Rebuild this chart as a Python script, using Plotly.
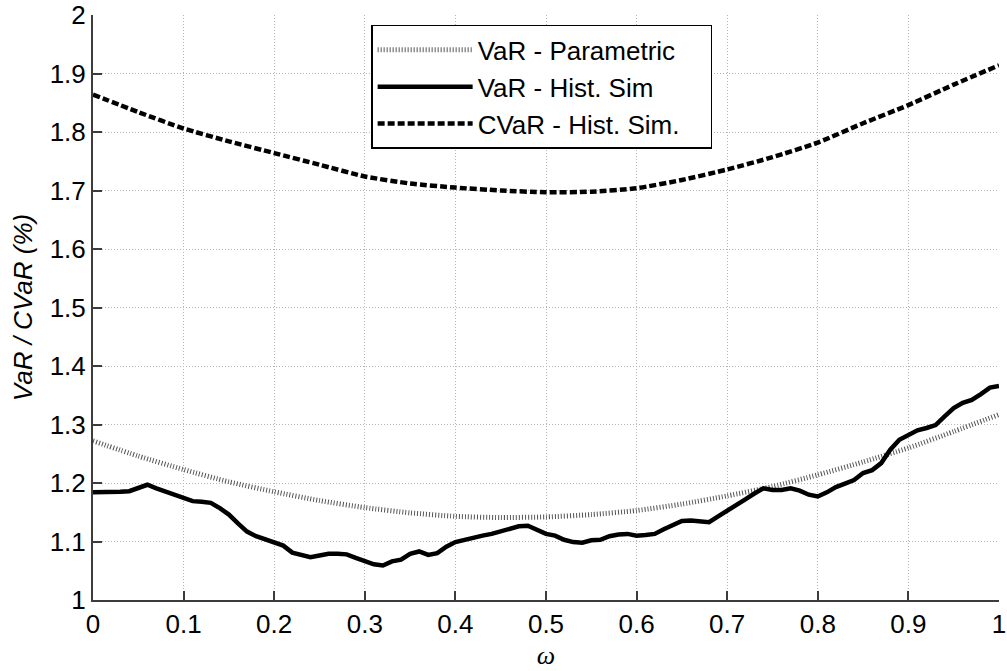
import plotly.graph_objects as go

# ---- data ----
w_fine = [i / 100 for i in range(101)]
var_hist = [
    1.184, 1.184, 1.184, 1.185, 1.186, 1.191, 1.197, 1.191, 1.185, 1.180,
    1.175, 1.169, 1.168, 1.166, 1.157, 1.146, 1.131, 1.117, 1.109, 1.103,
    1.099, 1.093, 1.081, 1.076, 1.073, 1.076, 1.079, 1.079, 1.078, 1.072,
    1.066, 1.061, 1.059, 1.066, 1.069, 1.079, 1.083, 1.077, 1.080, 1.091,
    1.099, 1.103, 1.107, 1.110, 1.113, 1.117, 1.123, 1.126, 1.127, 1.120,
    1.113, 1.110, 1.103, 1.099, 1.098, 1.102, 1.103, 1.109, 1.112, 1.113,
    1.110, 1.111, 1.113, 1.121, 1.129, 1.135, 1.136, 1.134, 1.133, 1.143,
    1.152, 1.163, 1.172, 1.182, 1.191, 1.188, 1.188, 1.191, 1.187, 1.180,
    1.177, 1.184, 1.193, 1.199, 1.205, 1.217, 1.222, 1.234, 1.257, 1.274,
    1.283, 1.290, 1.294, 1.299, 1.314, 1.328, 1.337, 1.342, 1.352, 1.363,
    1.366,
]

w_coarse = [i / 20 for i in range(21)]
var_param = [
    1.272, 1.246, 1.223, 1.202, 1.185, 1.170, 1.158, 1.149, 1.143, 1.141,
    1.142, 1.146, 1.153, 1.164, 1.178, 1.194, 1.214, 1.236, 1.260, 1.288,
    1.317,
]
cvar_hist = [
    1.864, 1.834, 1.806, 1.784, 1.764, 1.744, 1.724, 1.712, 1.705, 1.700,
    1.697, 1.698, 1.704, 1.718, 1.736, 1.757, 1.782, 1.815, 1.846, 1.881,
    1.914,
]

series_names = ["VaR - Parametric", "VaR - Hist. Sim", "CVaR - Hist. Sim."]

x_ticks = [i / 10 for i in range(11)]
x_ticktext = ["0", "0.1", "0.2", "0.3", "0.4", "0.5", "0.6", "0.7", "0.8", "0.9", "1"]
y_ticks = [1 + i / 10 for i in range(11)]
y_ticktext = ["1", "1.1", "1.2", "1.3", "1.4", "1.5", "1.6", "1.7", "1.8", "1.9", "2"]

FONT = "Liberation Sans, Arial, sans-serif"

fig = go.Figure()
fig.add_trace(go.Scatter(
    x=w_coarse, y=var_param, mode="lines", name=series_names[0],
    line=dict(color="#555555", width=5, dash="1px,2px", shape="spline", smoothing=0.6),
    legendgroup="a",
))
fig.add_trace(go.Scatter(
    x=w_fine, y=var_hist, mode="lines", name=series_names[1],
    line=dict(color="black", width=4.5), legendgroup="b",
))
fig.add_trace(go.Scatter(
    x=w_coarse, y=cvar_hist, mode="lines", name=series_names[2] + "\u2003",
    line=dict(color="black", width=4.5, dash="7px,3px", shape="spline", smoothing=0.6),
    legendgroup="c",
))

axis_common = dict(
    showline=True, linecolor="#3c3c3c", linewidth=2, mirror=False,
    ticks="inside", ticklen=9, tickwidth=2, tickcolor="#3c3c3c",
    showgrid=True, gridcolor="#b4b4b4", gridwidth=1, griddash="1px,2px",
    zeroline=False, tickfont=dict(family=FONT, size=26, color="black"),
    ticklabeloverflow="allow", automargin=False,
)

fig.update_xaxes(
    range=[0, 1], tickvals=x_ticks, ticktext=x_ticktext,
    title=dict(text="ω", font=dict(family="Liberation Serif, Times New Roman, serif",
                                   size=26, color="black", style="italic"), standoff=8),
    **axis_common,
)
fig.update_yaxes(
    range=[1, 2], tickvals=y_ticks, ticktext=y_ticktext,
    title=dict(text="VaR / CVaR (%)", font=dict(family=FONT, size=26, color="black",
                                               style="italic"), standoff=10),
    **axis_common,
)

fig.update_layout(
    width=1007, height=671,
    margin=dict(l=93, r=8, t=15, b=71),
    plot_bgcolor="white", paper_bgcolor="white",
    showlegend=True,
    legend=dict(
        x=0.307, y=0.983, xanchor="left", yanchor="top",
        bgcolor="white", bordercolor="black", borderwidth=1.5,
        font=dict(family=FONT, size=26, color="black"),
        tracegroupgap=0, itemwidth=95,
    ),
)

fig.write_html("out.html")
